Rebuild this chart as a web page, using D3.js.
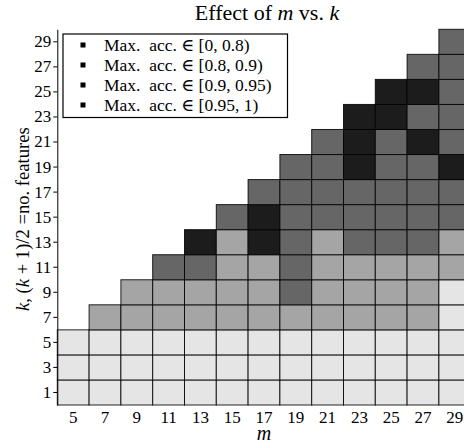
<!DOCTYPE html>
<html>
<head>
<meta charset="utf-8">
<script src="https://cdn.jsdelivr.net/npm/d3@7"></script>
<style>
  html, body { margin: 0; padding: 0; background: #fff; }
  svg { display: block; }
</style>
</head>
<body>
<svg id="chart" width="464" height="445"></svg>
<script>
// Number of trees m along x, k along y
const mValues = [5, 7, 9, 11, 13, 15, 17, 19, 21, 23, 25, 27, 29];
const kValues = [1, 3, 5, 7, 9, 11, 13, 15, 17, 19, 21, 23, 25, 27, 29];

// Accuracy bins used in the legend
const binLabels = ["[0, 0.8)", "[0.8, 0.9)", "[0.9, 0.95)", "[0.95, 1)"];
const binColors = ["#e5e5e5", "#a5a5a5", "#666666", "#1c1c1c"];

// Bin index of the max accuracy for each k (one row per k, one entry per m); null = not run
const row1  = [0, 0, 0, 0, 0, 0, 0, 0, 0, 0, 0, 0, 0];
const row3  = [0, 0, 0, 0, 0, 0, 0, 0, 0, 0, 0, 0, 0];
const row5  = [0, 0, 0, 0, 0, 0, 0, 0, 0, 0, 0, 0, 0];
const row7  = [null, 1, 1, 1, 1, 1, 1, 1, 1, 1, 1, 1, 0];
const row9  = [null, null, 1, 1, 1, 1, 1, 2, 1, 1, 1, 1, 0];
const row11 = [null, null, null, 2, 2, 1, 1, 2, 1, 1, 1, 1, 1];
const row13 = [null, null, null, null, 3, 1, 3, 2, 1, 2, 2, 2, 1];
const row15 = [null, null, null, null, null, 2, 3, 2, 2, 2, 2, 2, 2];
const row17 = [null, null, null, null, null, null, 2, 2, 2, 2, 2, 2, 2];
const row19 = [null, null, null, null, null, null, null, 2, 2, 3, 2, 2, 3];
const row21 = [null, null, null, null, null, null, null, null, 2, 3, 2, 3, 2];
const row23 = [null, null, null, null, null, null, null, null, null, 3, 3, 2, 2];
const row25 = [null, null, null, null, null, null, null, null, null, null, 3, 3, 2];
const row27 = [null, null, null, null, null, null, null, null, null, null, null, 2, 2];
const row29 = [null, null, null, null, null, null, null, null, null, null, null, null, 2];
const rows = [row1, row3, row5, row7, row9, row11, row13, row15, row17, row19, row21, row23, row25, row27, row29];

const cells = [];
rows.forEach((r, i) => r.forEach((b, j) => {
  if (b !== null) cells.push({ k: kValues[i], m: mValues[j], bin: b });
}));

const FONT = "'Liberation Serif', 'DejaVu Serif', 'Times New Roman', serif";

const svg = d3.select("#chart");
const plotLeft = 57.3, plotTop = 29.3, plotBottom = 405, colW = 31.8;

const x = d3.scaleBand().domain(mValues).range([plotLeft, plotLeft + colW * mValues.length]);
const y = d3.scaleBand().domain(kValues).range([plotBottom, plotTop]);

// Heatmap cells
svg.append("g").selectAll("rect").data(cells).join("rect")
  .attr("x", d => x(d.m))
  .attr("y", d => y(d.k))
  .attr("width", x.bandwidth())
  .attr("height", y.bandwidth())
  .attr("fill", d => binColors[d.bin])
  .attr("stroke", "#000")
  .attr("stroke-opacity", 0.85)
  .attr("stroke-width", 1);

// Y axis
const yAxis = svg.append("g")
  .attr("transform", `translate(${plotLeft},0)`)
  .call(d3.axisLeft(y).tickSizeInner(4).tickSizeOuter(0).tickPadding(2));
yAxis.attr("font-family", null).attr("font-size", null);
yAxis.selectAll("text").style("font-family", FONT).style("font-size", "17px").attr("fill", "#000");
yAxis.selectAll("line, path").attr("stroke", "#000");

// X axis (labels only)
const xAxis = svg.append("g")
  .attr("transform", `translate(0,${plotBottom})`)
  .call(d3.axisBottom(x).tickSize(0).tickPadding(6));
xAxis.attr("font-family", null).attr("font-size", null);
xAxis.select(".domain").remove();
xAxis.selectAll("text").style("font-family", FONT).style("font-size", "17px").attr("fill", "#000");

function addText(sel, size) {
  return sel.append("text").style("font-family", FONT).style("font-size", size + "px").attr("fill", "#000");
}

// Title
const title = addText(svg, 22).attr("x", 267).attr("y", 20).attr("text-anchor", "middle");
title.append("tspan").text("Effect of ");
title.append("tspan").style("font-style", "italic").text("m");
title.append("tspan").text(" vs.  ");
title.append("tspan").style("font-style", "italic").text("k");

// X label
addText(svg, 20)
  .attr("x", x(17) + x.bandwidth() / 2).attr("y", 440)
  .attr("text-anchor", "middle")
  .style("font-style", "italic")
  .text("m");

// Y label
const yl = addText(svg, 18.6)
  .attr("transform", `translate(29,${(plotTop + plotBottom) / 2 + 2}) rotate(-90)`)
  .attr("text-anchor", "middle");
yl.append("tspan").style("font-style", "italic").text("k");
yl.append("tspan").text(", (");
yl.append("tspan").style("font-style", "italic").text("k");
yl.append("tspan").text(" + 1)/2 =no.  features");

// Legend
const legend = svg.append("g");
legend.append("rect")
  .attr("x", 63).attr("y", 34)
  .attr("width", 224.5).attr("height", 83.5)
  .attr("fill", "#fff").attr("stroke", "#000").attr("stroke-width", 1.2);
binLabels.forEach((lab, i) => {
  const cy = 45 + i * 20;
  legend.append("rect")
    .attr("x", 80.5).attr("y", cy - 2.5)
    .attr("width", 5).attr("height", 5)
    .attr("fill", "#000");
  addText(legend, 17.5)
    .attr("x", 104).attr("y", cy + 5.5)
    .style("white-space", "pre")
    .text("Max.  acc. \u2208 " + lab);
});
</script>
</body>
</html>
